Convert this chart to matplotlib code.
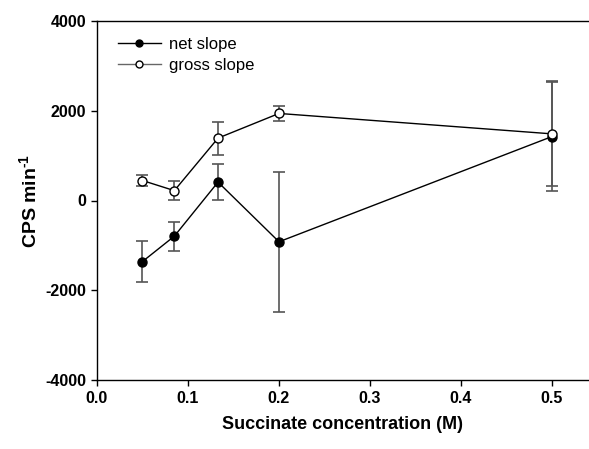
import numpy as np
import matplotlib.pyplot as plt
from matplotlib.lines import Line2D

plt.rcParams['font.family'] = ['Liberation Sans', 'DejaVu Sans']
plt.rcParams['axes.unicode_minus'] = False
plt.rcParams['mathtext.fontset'] = 'custom'
plt.rcParams['mathtext.rm'] = 'Liberation Sans:bold'
plt.rcParams['mathtext.bf'] = 'Liberation Sans:bold'

# succinate concentration (M)
conc = [0.05, 0.085, 0.133, 0.2, 0.5]

# net slope, CPS min^-1
net_mean = [-1360, -795, 410, -920, 1425]
net_err = [450, 325, 400, 1555, 1220]

# gross slope, CPS min^-1
gross_mean = [445, 220, 1390, 1940, 1485]
gross_err = [125, 205, 370, 175, 1170]

fig = plt.figure(figsize=(5.89, 4.49), dpi=100)
ax = fig.add_axes([97 / 589, 1 - 380 / 449, 1 - 97 / 589, (380 - 21) / 449])

err_kw = dict(ecolor='#555555', elinewidth=1.2, capsize=4, capthick=1.2)

ax.errorbar(conc, net_mean, yerr=net_err, fmt='none', zorder=2, **err_kw)
ax.errorbar(conc, gross_mean, yerr=gross_err, fmt='none', zorder=2, **err_kw)
ax.plot(conc, net_mean, '-', color='black', lw=1, marker='o', ms=6.5,
        mfc='black', mec='black', zorder=3)
ax.plot(conc, gross_mean, '-', color='black', lw=1, marker='o', ms=6.5,
        mfc='white', mec='black', mew=1, zorder=3)

ax.set_xlim(0, 0.5407)
ax.set_ylim(-4000, 4000)
ax.set_xticks(np.arange(0, 0.51, 0.1))
ax.set_xticklabels(['0.0', '0.1', '0.2', '0.3', '0.4', '0.5'])
ax.set_yticks([-4000, -2000, 0, 2000, 4000])
ax.set_yticklabels(['-4000', '-2000', '0', '2000', '4000'])
ax.spines['right'].set_visible(False)
for s in ['top', 'bottom', 'left']:
    ax.spines[s].set_linewidth(1.0)
ax.tick_params(direction='out', length=4, width=1, labelsize=11.5, pad=4)
for lab in ax.get_xticklabels() + ax.get_yticklabels():
    lab.set_fontweight('bold')

ax.set_xlabel('Succinate concentration (M)', fontsize=13, fontweight='bold', labelpad=7)
ax.set_ylabel('CPS min$^{\\text{-1}}$', fontsize=14, fontweight='bold', labelpad=3)

handles = [
    Line2D([], [], color='black', lw=1, marker='o', ms=5, mfc='black', mec='black'),
    Line2D([], [], color='#666666', lw=1, marker='o', ms=5, mfc='white', mec='black'),
]
ax.legend(handles, ['net slope', 'gross slope'], loc='upper left', frameon=False,
          fontsize=12, handlelength=2.6, handletextpad=0.5, labelspacing=0.35,
          bbox_to_anchor=(0.01, 1.0), borderaxespad=0.55)

fig.savefig('out.png', dpi=100)
